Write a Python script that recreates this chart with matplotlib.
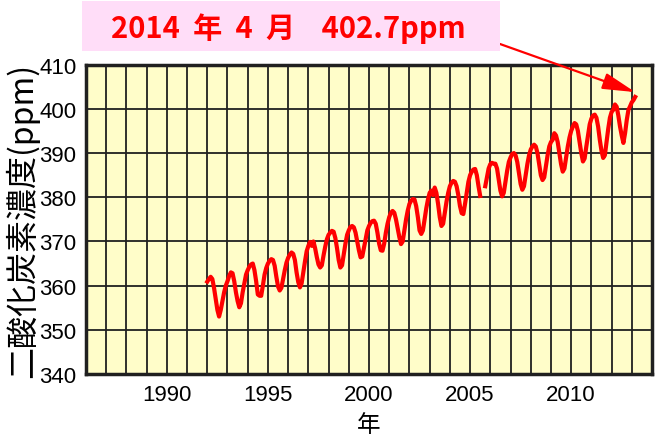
import numpy as np
import matplotlib
matplotlib.use("Agg")
import matplotlib.pyplot as plt
from matplotlib.ticker import MultipleLocator

# monthly CO2 concentration (ppm), Jan 1992 .. Mar 2013, nan = missing
start_year = 1992
co2_ppm = [
	360.9, 361.5, 362.0, 361.5, 359.5, 357.0, 354.5, 353.0, 354.5, 356.5, 358.5, 360.0,  # 1992
	361.0, 362.2, 363.0, 362.8, 361.0, 358.5, 356.5, 355.1, 356.0, 358.5, 360.5, 362.5,  # 1993
	363.5, 364.3, 364.8, 365.0, 363.5, 361.0, 358.0, 357.7, 357.7, 360.0, 362.5, 364.0,  # 1994
	365.0, 365.6, 366.0, 365.8, 364.5, 362.0, 359.8, 358.9, 359.5, 361.5, 363.5, 365.2,  # 1995
	366.3, 367.0, 367.5, 367.2, 365.8, 363.0, 360.8, 359.6, 360.5, 363.0, 365.5, 367.8,  # 1996
	369.0, 369.9, 369.0, 370.0, 368.5, 366.5, 364.8, 364.1, 364.6, 366.8, 368.8, 370.5,  # 1997
	371.5, 372.0, 372.4, 372.2, 370.8, 368.5, 365.8, 364.1, 364.6, 367.0, 369.5, 371.5,  # 1998
	372.5, 373.3, 373.5, 373.2, 372.0, 370.0, 368.0, 366.4, 366.6, 368.5, 370.5, 372.5,  # 1999
	373.5, 374.2, 374.6, 374.7, 374.0, 372.0, 369.5, 368.0, 367.9, 369.5, 372.0, 374.0,  # 2000
	375.5, 376.5, 376.9, 376.5, 375.0, 373.0, 371.0, 369.4, 370.0, 372.5, 375.0, 377.0,  # 2001
	378.5, 379.2, 379.6, 379.5, 378.0, 375.5, 372.5, 371.7, 372.5, 375.0, 377.5, 379.5,  # 2002
	381.0, 381.5, 380.5, 382.2, 381.0, 378.5, 375.5, 373.5, 374.0, 376.5, 379.0, 381.0,  # 2003
	382.5, 383.3, 383.7, 383.5, 382.5, 380.5, 378.0, 376.4, 376.2, 378.5, 381.0, 383.5,  # 2004
	385.0, 385.8, 386.3, 386.4, 385.0, 382.5, 380.3, np.nan, np.nan, 382.5, 384.5, 386.5,  # 2005
	387.5, 387.8, 387.6, 387.6, 386.5, 384.0, 381.5, 380.2, 381.0, 383.5, 386.0, 388.0,  # 2006
	389.0, 389.8, 390.0, 389.5, 388.0, 385.5, 383.0, 381.7, 382.5, 385.0, 387.5, 389.5,  # 2007
	390.8, 391.5, 391.9, 391.5, 390.0, 387.5, 385.0, 383.9, 384.5, 387.0, 389.5, 391.5,  # 2008
	392.5, 393.0, 394.5, 394.0, 392.5, 390.0, 387.5, 385.8, 386.5, 389.0, 391.5, 393.5,  # 2009
	395.0, 396.0, 396.8, 396.5, 395.0, 392.5, 390.0, 388.1, 388.8, 391.5, 394.0, 396.5,  # 2010
	397.8, 398.5, 398.7, 398.0, 396.0, 393.0, 390.5, 388.9, 389.5, 392.5, 395.5, 398.0,  # 2011
	399.3, 399.8, 401.0, 400.5, 398.5, 396.0, 394.0, 392.3, 394.5, 397.5, 399.8, 400.6,  # 2012
	401.5, 402.0, 402.7,  # 2013
]
year_ticks = [1990, 1995, 2000, 2005, 2010]
ppm_ticks = [340, 350, 360, 370, 380, 390, 400, 410]
title_text = "2014  年  4  月    402.7ppm"

plt.rcParams['font.family'] = ['Liberation Sans', 'Noto Sans CJK JP', 'DejaVu Sans']

fig = plt.figure(figsize=(6.65, 4.39), dpi=100)
ax = fig.add_axes([0.1293, 0.1458, 0.8512, 0.7045])
ax.set_facecolor('#FFFDC9')

t = start_year + np.arange(len(co2_ppm)) / 12.0
ax.plot(t, co2_ppm, color='#FF0000', lw=3, zorder=3)

ax.set_xlim(1986, 2014)
ax.set_ylim(340, 410)
ax.set_xticks(year_ticks)
ax.xaxis.set_minor_locator(MultipleLocator(1))
ax.set_yticks(ppm_ticks)
ax.grid(which='both', axis='x', color='#202020', lw=1.3)
ax.grid(which='major', axis='y', color='#202020', lw=1.3)
ax.set_axisbelow(True)
ax.tick_params(which='both', length=0, labelsize=16, pad=7)
for s in ax.spines.values():
	s.set_linewidth(2.5)
	s.set_color('#202020')

ax.set_ylabel("二酸化炭素濃度(ppm)", family=['Noto Sans CJK JP'], fontsize=23)
ax.yaxis.set_label_coords(-0.082, 0.5)
ax.set_xlabel("年", family=['Noto Sans CJK JP'], fontsize=17, labelpad=6)

# title box
box = plt.Rectangle((82/665, 1-52/439), (500-82)/665, 50/439, transform=fig.transFigure,
	fc='#FFDDF8', ec='none', zorder=0)
fig.patches.append(box)
fig.text(288/665, 1-29/439, title_text, color='#FF0000', fontsize=21, weight='bold',
	family=['Noto Sans CJK JP'], ha='center', va='center')

# arrow to last value
ax.annotate("", xy=(t[-1], 403.8), xycoords='data',
	xytext=(500/665, 1-45/439), textcoords='figure fraction',
	arrowprops=dict(arrowstyle='-|>,head_length=2.0,head_width=0.5', color='#FF0000',
		lw=1.6, shrinkA=0, shrinkB=0),
	annotation_clip=False)

fig.savefig("out.png", dpi=100)
